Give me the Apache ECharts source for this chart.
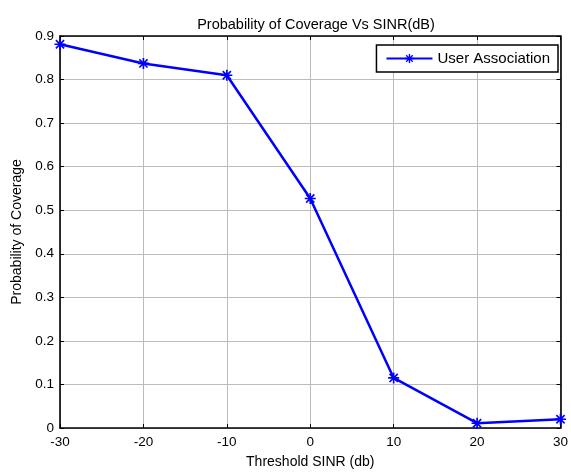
<!DOCTYPE html>
<html>
<head>
<meta charset="utf-8">
<script src="https://cdn.jsdelivr.net/npm/echarts@6/dist/echarts.min.js"></script>
<style>
html,body{margin:0;padding:0;background:#fff;}
#main{width:571px;height:474px;}
</style>
</head>
<body>
<div id="main"></div>
<script>
var chartTitle = 'Probability of Coverage Vs SINR(dB)';
var xLabel = 'Threshold SINR (db)';
var yLabel = 'Probability of Coverage';
var seriesName = 'User Association';
var thresholds = [-30, -20, -10, 0, 10, 20, 30];
var coverage = [0.881, 0.837, 0.810, 0.527, 0.115, 0.011, 0.020];

var star = 'path://M8.5,0h3v20h-3z M0,8.5h20v3h-20z M1.5,3.6L3.6,1.5L18.5,16.4L16.4,18.5z M16.4,1.5L18.5,3.6L3.6,18.5L1.5,16.4z';
var font = 'Liberation Sans, Arial, sans-serif';

var chart = echarts.init(document.getElementById('main'), null, {renderer: 'canvas'});
var xCommon = {
  type: 'value', min: -30, max: 30, interval: 10,
  axisLine: {show: true, onZero: false, lineStyle: {color: '#000', width: 1.6}},
  axisTick: {show: true, inside: true, length: 4, lineStyle: {color: '#000'}},
  splitLine: {show: false}
};
var yCommon = {
  type: 'value', min: 0, max: 0.9, interval: 0.1,
  axisLine: {show: true, onZero: false, lineStyle: {color: '#000', width: 1.6}},
  axisTick: {show: true, inside: true, length: 4, lineStyle: {color: '#000'}},
  splitLine: {show: false}
};
var option = {
  backgroundColor: '#fff',
  animation: false,
  textStyle: {fontFamily: font},
  title: {
    text: chartTitle, left: 311, top: 12, textAlign: 'center',
    textStyle: {fontSize: 14.5, fontWeight: 'normal', color: '#000', fontFamily: font}
  },
  legend: {
    data: [seriesName],
    right: 13, top: 45,
    orient: 'horizontal',
    backgroundColor: '#fff',
    borderColor: '#000', borderWidth: 1.5, borderRadius: 0,
    padding: [6, 8, 6, 9],
    itemWidth: 46, itemHeight: 11,
    textStyle: {fontSize: 15, color: '#000', fontFamily: font}
  },
  grid: {left: 60, right: 9, top: 36, bottom: 40, containLabel: false},
  xAxis: [
    Object.assign({}, xCommon, {
      position: 'bottom',
      name: xLabel, nameLocation: 'middle', nameGap: 27,
      nameTextStyle: {fontSize: 14, color: '#000', fontFamily: font},
      axisLabel: {show: true, margin: 7, fontSize: 13.5, color: '#000', fontFamily: font},
      splitLine: {show: true, lineStyle: {color: '#bcbcbc', width: 1}}
    }),
    Object.assign({}, xCommon, {position: 'top', axisLabel: {show: false}})
  ],
  yAxis: [
    Object.assign({}, yCommon, {
      position: 'left',
      name: yLabel, nameLocation: 'middle', nameGap: 35, nameRotate: 90,
      nameTextStyle: {fontSize: 14, color: '#000', fontFamily: font},
      axisLabel: {show: true, margin: 6, fontSize: 13.5, color: '#000', fontFamily: font,
        formatter: function (v) { return v === 0 ? '0' : v.toFixed(1); }},
      splitLine: {show: true, lineStyle: {color: '#bcbcbc', width: 1}}
    }),
    Object.assign({}, yCommon, {position: 'right', axisLabel: {show: false}})
  ],
  series: [{
    name: seriesName,
    type: 'line',
    xAxisIndex: 0, yAxisIndex: 0,
    data: thresholds.map(function (x, i) { return [x, coverage[i]]; }),
    symbol: star, symbolSize: 11,
    lineStyle: {color: '#0000ff', width: 2.5},
    itemStyle: {color: '#0000ff'},
    clip: false
  }]
};
chart.setOption(option);
</script>
</body>
</html>
